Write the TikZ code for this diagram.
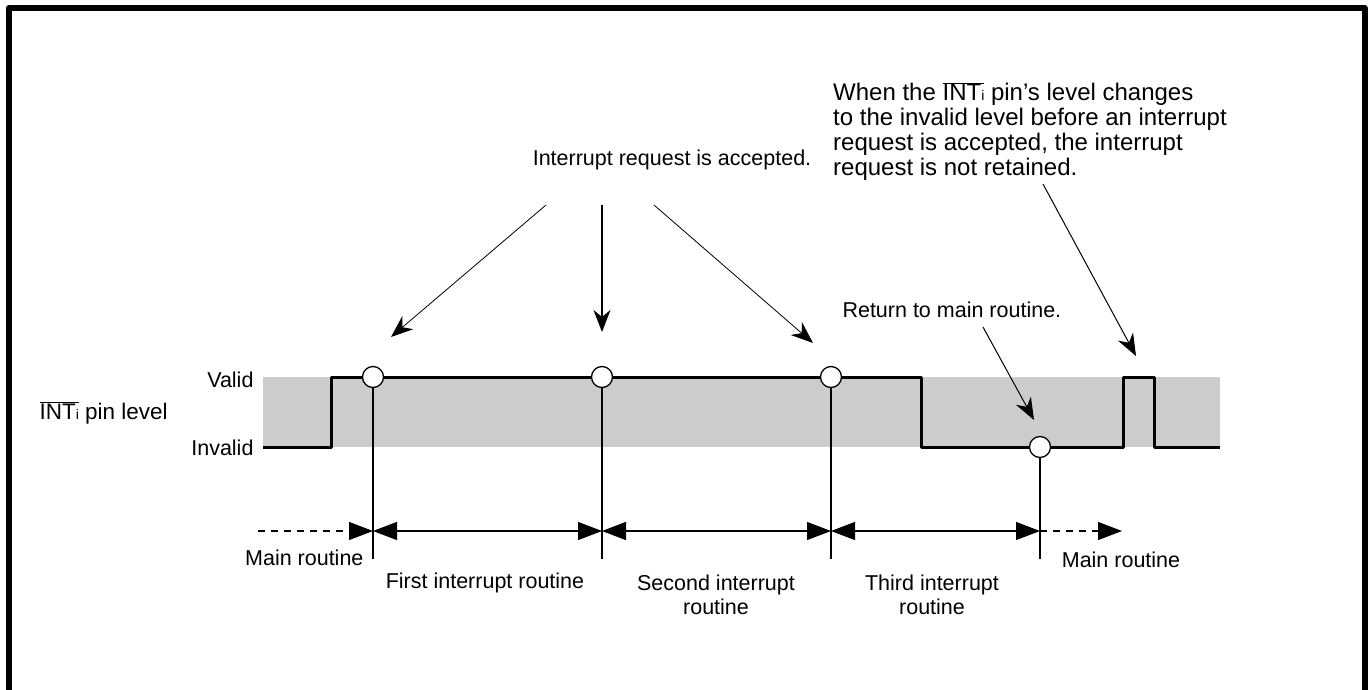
\documentclass[tikz,border=0pt]{standalone}
\usepackage{fontspec}
\setmainfont{Liberation Sans}
\usetikzlibrary{arrows.meta,positioning}
\newcommand{\intpin}{$\overline{\mbox{INT{\fontsize{14}{14}\selectfont i}}}$}

\begin{document}
\begin{tikzpicture}[x=1pt, y=-1pt, font=\fontsize{21.5}{24.5}\selectfont, line join=round,
		signal/.style={line width=3pt},
		tick/.style={line width=1.2pt},
		spot/.style={circle, draw, fill=white, line width=1.3pt, minimum size=21pt, inner sep=0pt},
		callout/.style={-{Stealth[length=22pt,width=17pt,inset=7pt]}, line width=0.8pt},
		span/.style={{Triangle[length=24pt,width=18pt]}-{Triangle[length=24pt,width=18pt]}, tick},
		lead/.style={-{Triangle[length=24pt,width=18pt]}, tick, dash pattern=on 7pt off 6pt}]
	\useasboundingbox (0,0) rectangle (1369,690);
	\draw[line width=6pt] (9,700) -- (9,8) -- (1364.5,8) -- (1364.5,700);
	% valid band and the pin level
	\fill[gray!40] (263,377) rectangle (1220,447);
	\draw[signal] (263,447) -- (331,447) -- (331,377) -- (921,377) -- (921,447) -- (1123,447)
		-- (1123,377) -- (1154,377) -- (1154,447) -- (1220,447);
	\node[anchor=east] (valid) at (257,380) {Valid};
	\node[anchor=east] (invalid) at (257,448) {Invalid};
	\node[anchor=west, font=\fontsize{22.5}{25}\selectfont] (pin) at (36,413) {\intpin{} pin level};
	% sampling points
	\node[spot] (a1) at (373,377) {};
	\node[spot] (a2) at (602,377) {};
	\node[spot] (a3) at (831,377) {};
	\node[spot] (r) at (1040,447) {};
	\coordinate (b1) at (373,559);
	\coordinate (b2) at (602,559);
	\coordinate (b3) at (831,559);
	\coordinate (b4) at (1040,559);
	\foreach \i/\j in {a1/b1, a2/b2, a3/b3, r/b4}
		\draw[tick] (\i.south) -- (\j);
	% routines
	\coordinate (s0) at (258,531);
	\coordinate (s1) at (373,531);
	\coordinate (s2) at (602,531);
	\coordinate (s3) at (831,531);
	\coordinate (s4) at (1040,531);
	\coordinate (s5) at (1122,531);
	\draw[lead] (s0) -- (s1);
	\draw[span] (s1) -- (s2);
	\draw[span] (s2) -- (s3);
	\draw[span] (s3) -- (s4);
	\draw[lead] (s4) -- (s5);
	\node[anchor=east] (main1) at (367,558) {Main routine};
	\node (first) at (485,583) {First interrupt routine};
	\node[align=center, anchor=north] (second) at (716,571) {Second interrupt\\routine};
	\node[align=center, anchor=north] (third) at (932,571) {Third interrupt\\routine};
	\node (main2) at (1121,560) {Main routine};
	% notes
	\node (acc) at (672,160) {Interrupt request is accepted.};
	\coordinate (c1) at (546,205);
	\coordinate (c2) at (602,205);
	\coordinate (c3) at (654,205);
	\coordinate (d1) at (391,337);
	\coordinate (d2) at (602,332);
	\coordinate (d3) at (813,343);
	\draw[callout] (c1) -- (d1);
	\draw[callout, line width=2pt] (c2) -- (d2);
	\draw[callout] (c3) -- (d3);
	\node[anchor=west] (ret) at (839,310) {Return to main routine.};
	\coordinate (e1) at (983,327);
	\coordinate (e2) at (1034,420);
	\draw[callout, line width=1pt] (e1) -- (e2);
	\node[anchor=north west, align=left, inner sep=0pt, font=\fontsize{24}{25}\selectfont] (note) at (833,82)
		{When the \intpin{} pin's level changes\\to the invalid level before an interrupt\\request is accepted, the interrupt\\request is not retained.};
	\coordinate (f1) at (1043,184);
	\coordinate (f2) at (1136,356);
	\draw[callout, line width=1pt] (f1) -- (f2);
\end{tikzpicture}
\end{document}
